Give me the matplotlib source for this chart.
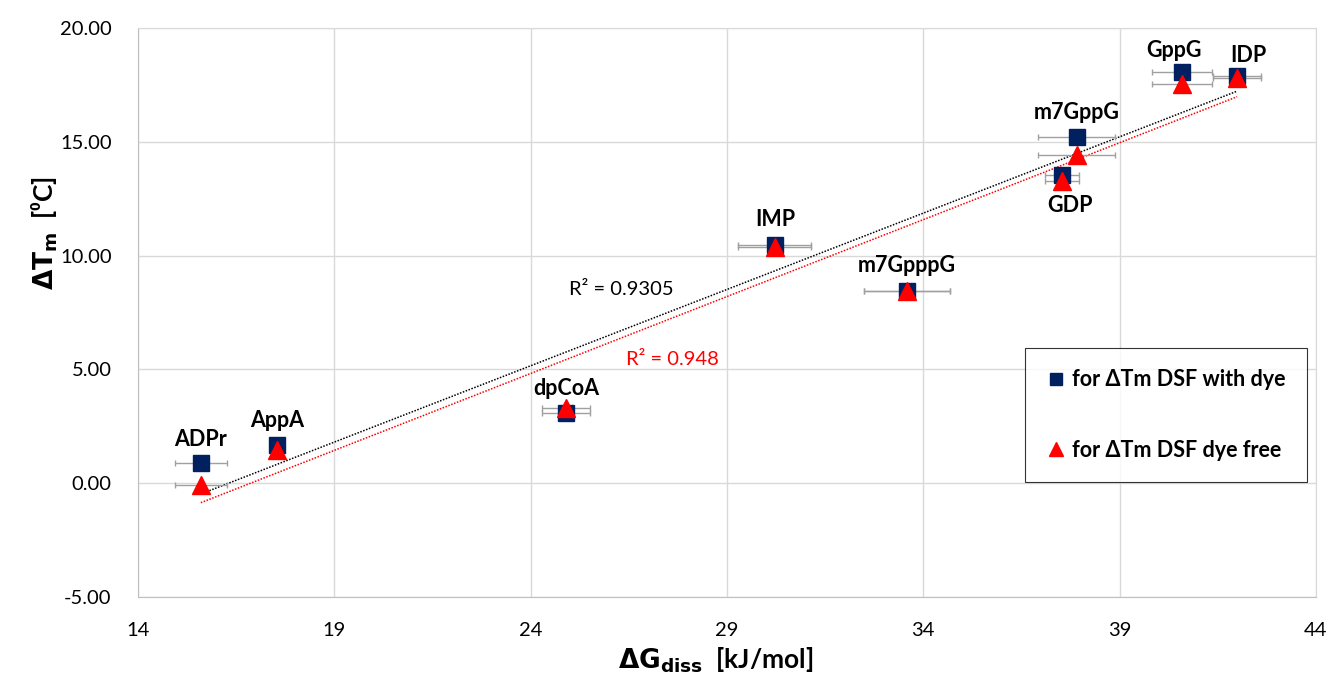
import numpy as np
import matplotlib.pyplot as plt

# dane
nazwy = ["ADPr", "AppA", "dpCoA", "IMP", "m7GpppG", "m7GppG", "GDP", "GppG", "IDP"]
dG = [15.6, 17.54, 24.9, 30.22, 33.58, 37.91, 37.53, 40.59, 41.99]
dG_err = [0.67, 0.15, 0.61, 0.93, 1.1, 0.98, 0.43, 0.77, 0.61]
dTm_dye = [0.88, 1.67, 3.08, 10.48, 8.46, 15.24, 13.57, 18.06, 17.88]
dTm_free = [-0.1, 1.45, 3.3, 10.4, 8.46, 14.45, 13.3, 17.55, 17.8]

# polozenie etykiet (przesuniecie w punktach)
etyk_dy = [17, 18, 18, 18, 18, 17, -22, 16, 15]
etyk_dx = [0, 0, 0, 0, 0, 0, 6, -6, 8]

plt.rcParams['font.family'] = ['Lato', 'DejaVu Sans']

fig = plt.figure(figsize=(13.27, 6.73), dpi=100)
ax = fig.add_axes([0.104, 0.113, 0.8877, 0.845])

ax.errorbar(dG, dTm_dye, xerr=dG_err, fmt='none', ecolor='#a0a0a0', elinewidth=1.0, capsize=2, zorder=2)
ax.errorbar(dG, dTm_free, xerr=dG_err, fmt='none', ecolor='#a0a0a0', elinewidth=1.0, capsize=2, zorder=2)
ax.plot(dG, dTm_dye, 's', color='#002060', markersize=12, linestyle='none', label='for ΔTm DSF with dye', zorder=3)
ax.plot(dG, dTm_free, '^', color='#ff0000', markersize=13, linestyle='none', label='for ΔTm DSF dye free', zorder=4)

# linie trendu
xs = np.array([min(dG), max(dG)])
for y, kol in [(dTm_dye, 'black'), (dTm_free, 'red')]:
    a, b = np.polyfit(dG, y, 1)
    ax.plot(xs, a * xs + b, linestyle=(0, (1, 1)), color=kol, linewidth=1.1, zorder=1)

ax.text(26.3, 8.5, "R² = 0.9305", color='black', fontsize=14.5, ha='center', va='center')
ax.text(27.6, 5.42, "R² = 0.948", color='red', fontsize=14.5, ha='center', va='center')

for i, n in enumerate(nazwy):
    ax.annotate(n, (dG[i], dTm_dye[i]), xytext=(etyk_dx[i], etyk_dy[i]), textcoords='offset points',
                ha='center', va='center', fontsize=15.5, fontweight='bold')

ax.set_xlim(14, 44)
ax.set_ylim(-5, 20)
ax.set_xticks(np.arange(14, 45, 5))
ax.set_yticks(np.arange(-5, 20.1, 5))
ax.set_yticklabels(["%.2f" % v for v in np.arange(-5, 20.1, 5)])
ax.tick_params(labelsize=14.5, length=0)
ax.tick_params(axis='y', pad=19)
ax.tick_params(axis='x', pad=18)
ax.grid(True, color='#d9d9d9', linewidth=1)
ax.set_axisbelow(True)
for s in ax.spines.values():
    s.set_color('#d9d9d9')
ax.spines['left'].set_color('#bfbfbf')
ax.spines['bottom'].set_color('#bfbfbf')

ax.set_xlabel(r"$\mathbf{\Delta G_{diss}}$  [kJ/mol]", fontsize=19, fontweight='bold')
ax.set_ylabel(r"$\mathbf{\Delta T_m}$  [⁰C]", fontsize=19, fontweight='bold')
ax.xaxis.set_label_coords(0.49, -0.085)
ax.yaxis.set_label_coords(-0.066, 0.64)

leg = ax.legend(loc='lower right', bbox_to_anchor=(0.998, 0.19), prop={'weight': 'bold', 'size': 15.5},
                frameon=True, fancybox=False, edgecolor='black', labelspacing=2.3, borderpad=1.0,
                handletextpad=0.3, handlelength=0.9, borderaxespad=0.3, markerscale=0.75)
leg.get_frame().set_linewidth(0.8)

fig.savefig("out.png", dpi=100)
